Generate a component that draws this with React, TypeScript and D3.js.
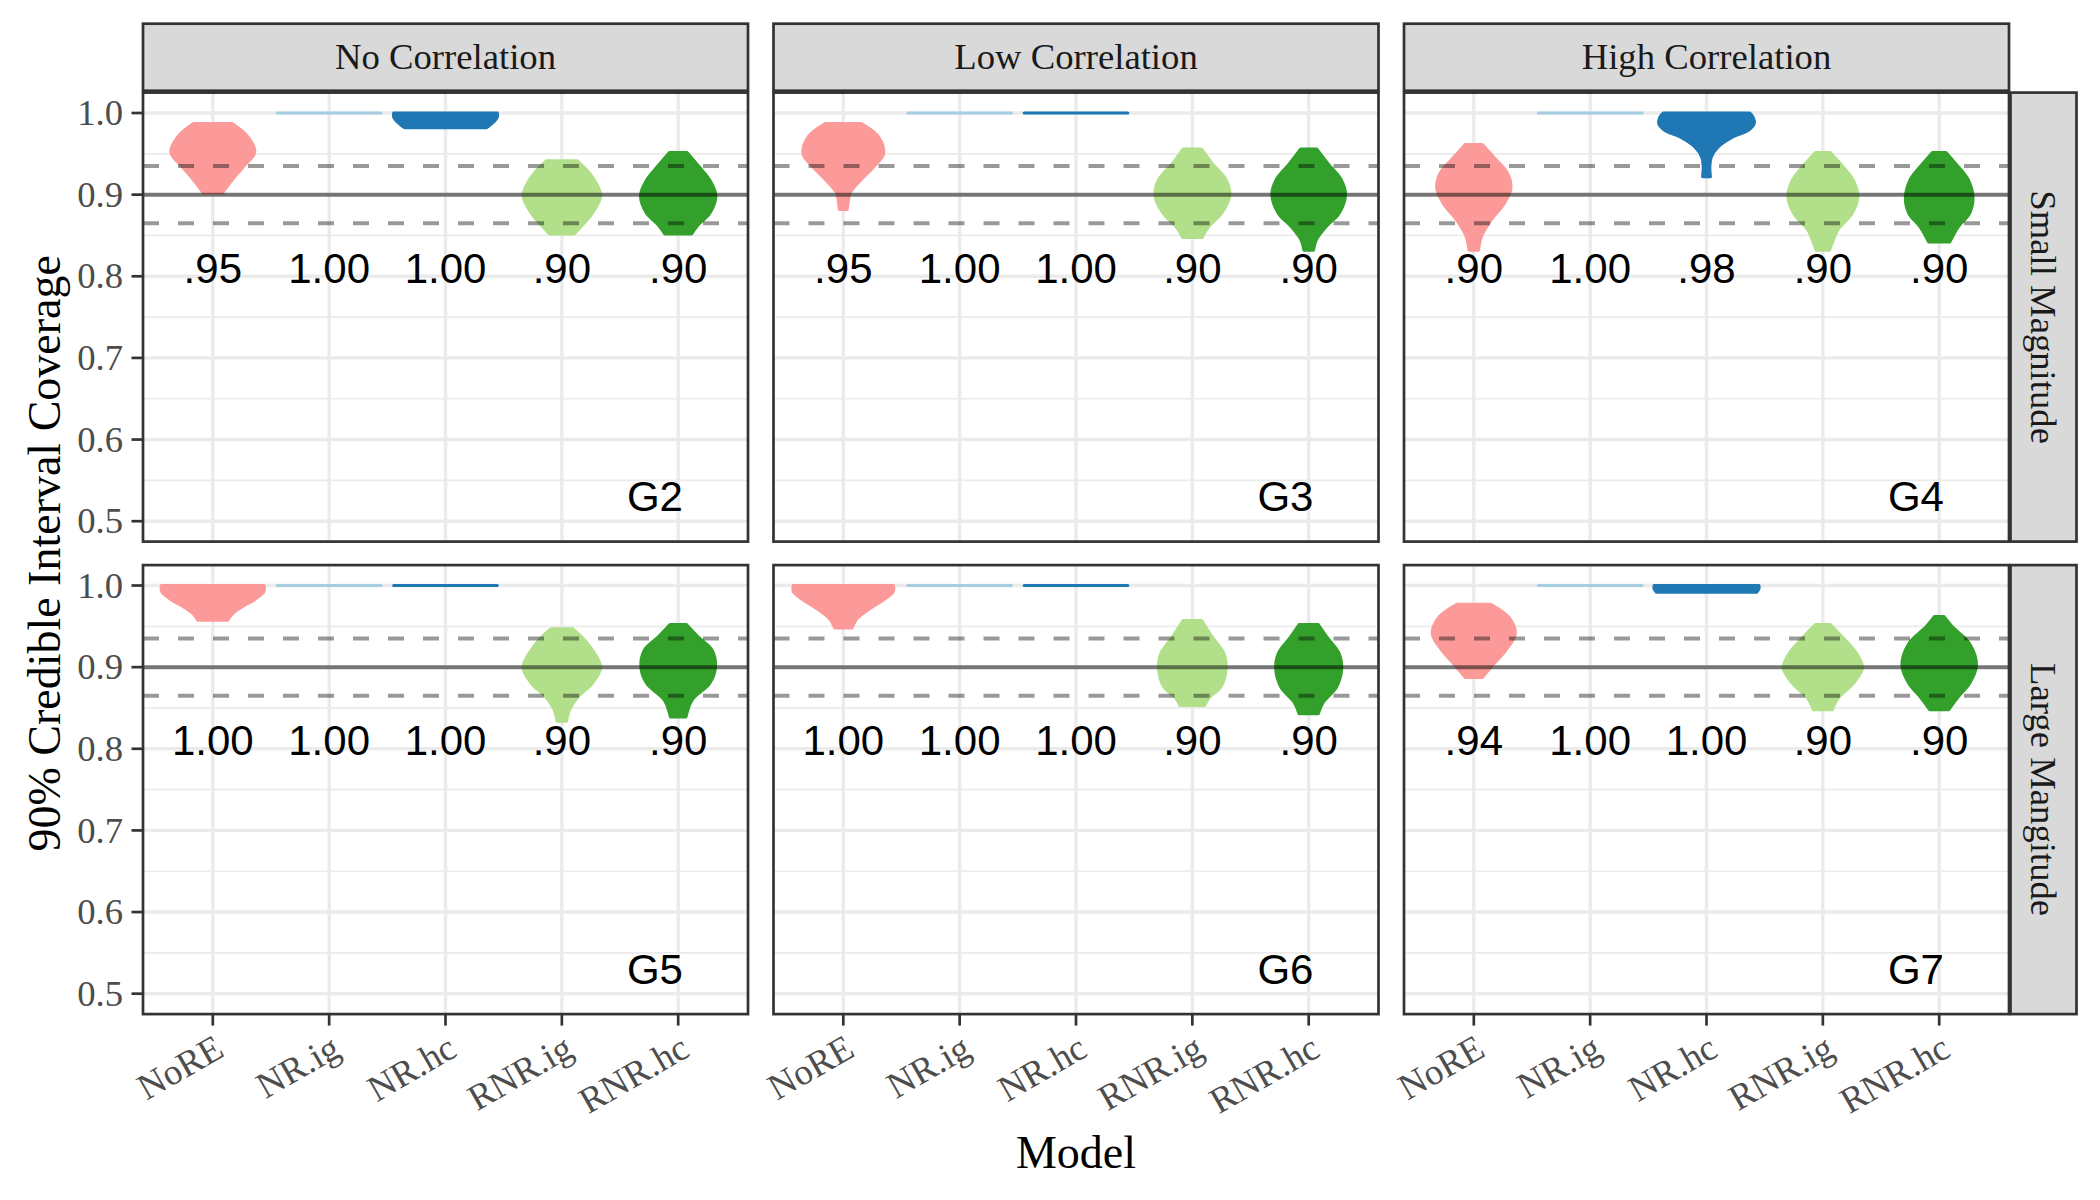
import React, { useEffect } from "react";
import * as d3 from "d3";

// categories
const models = ["NoRE", "NR.ig", "NR.hc", "RNR.ig", "RNR.hc"];
const modelColors = ["#FB9A99", "#A6CEE3", "#1F78B4", "#B2DF8A", "#33A02C"];
const correlations = ["No Correlation", "Low Correlation", "High Correlation"];
const magnitudes = ["Small Magnitude", "Large Mangitude"];
const groupNames = ["G2", "G3", "G4", "G5", "G6", "G7"];

// mean coverage printed under each violin (per group, per model)
const meanCoverage = [
  [0.95, 1.0, 1.0, 0.9, 0.9],
  [0.95, 1.0, 1.0, 0.9, 0.9],
  [0.9, 1.0, 0.98, 0.9, 0.9],
  [1.0, 1.0, 1.0, 0.9, 0.9],
  [1.0, 1.0, 1.0, 0.9, 0.9],
  [0.94, 1.0, 1.0, 0.9, 0.9],
];

// violin profiles: [coverage, half width in category units]
const flat: [number, number][] = [[1.0, 0.445], [1.0, 0.445]];

const violinsG2: [number, number][][] = [
  [[0.902, 0.08], [0.918, 0.165], [0.934, 0.26], [0.952, 0.36], [0.971, 0.3], [0.987, 0.165]],
  flat,
  [[0.982, 0.35], [0.985, 0.38], [0.99, 0.42], [0.995, 0.445], [1.0, 0.445]],
  [[0.852, 0.105], [0.861, 0.165], [0.877, 0.26], [0.899, 0.333], [0.922, 0.26], [0.9415, 0.13]],
  [[0.852, 0.115], [0.863, 0.17], [0.877, 0.27], [0.899, 0.323], [0.918, 0.27], [0.934, 0.18], [0.9516, 0.075]],
];
const violinsG3: [number, number][][] = [
  [[0.882, 0.033], [0.889, 0.04], [0.902, 0.057], [0.918, 0.15], [0.934, 0.26], [0.95, 0.346], [0.971, 0.3], [0.987, 0.155]],
  flat,
  flat,
  [[0.8476, 0.082], [0.861, 0.14], [0.877, 0.25], [0.899, 0.32], [0.918, 0.29], [0.938, 0.17], [0.9557, 0.08]],
  [[0.832, 0.04], [0.845, 0.066], [0.861, 0.15], [0.877, 0.26], [0.9, 0.316], [0.918, 0.28], [0.938, 0.165], [0.9557, 0.07]],
];
const violinsG4: [number, number][][] = [
  [[0.832, 0.04], [0.849, 0.066], [0.869, 0.148], [0.889, 0.26], [0.9077, 0.318], [0.926, 0.29], [0.946, 0.17], [0.9614, 0.073]],
  flat,
  [[0.922, 0.033], [0.934, 0.028], [0.946, 0.04], [0.9585, 0.1], [0.971, 0.23], [0.979, 0.36], [0.987, 0.41], [0.995, 0.4], [1.0, 0.37]],
  [[0.832, 0.057], [0.841, 0.08], [0.857, 0.13], [0.877, 0.25], [0.8976, 0.3], [0.918, 0.26], [0.938, 0.15], [0.9516, 0.063]],
  [[0.842, 0.09], [0.861, 0.165], [0.877, 0.26], [0.8955, 0.29], [0.918, 0.25], [0.938, 0.14], [0.9516, 0.058]],
];
const violinsG5: [number, number][][] = [
  [[0.9577, 0.13], [0.965, 0.165], [0.973, 0.24], [0.983, 0.36], [0.993, 0.44], [1.0, 0.44]],
  flat,
  flat,
  [[0.834, 0.04], [0.848, 0.066], [0.864, 0.14], [0.88, 0.26], [0.9, 0.333], [0.929, 0.22], [0.947, 0.092]],
  [[0.839, 0.066], [0.86, 0.12], [0.88, 0.27], [0.9, 0.32], [0.921, 0.29], [0.937, 0.17], [0.952, 0.07]],
];
const violinsG6: [number, number][][] = [
  [[0.948, 0.073], [0.959, 0.115], [0.971, 0.22], [0.983, 0.35], [0.993, 0.43], [1.0, 0.43]],
  flat,
  flat,
  [[0.853, 0.105], [0.862, 0.14], [0.876, 0.245], [0.898, 0.29], [0.917, 0.27], [0.937, 0.17], [0.957, 0.08]],
  [[0.843, 0.082], [0.856, 0.12], [0.876, 0.24], [0.898, 0.283], [0.917, 0.26], [0.937, 0.155], [0.952, 0.082]],
];
const violinsG7: [number, number][][] = [
  [[0.8875, 0.073], [0.904, 0.17], [0.92, 0.27], [0.9407, 0.356], [0.961, 0.3], [0.977, 0.145]],
  flat,
  [[0.992, 0.43], [0.996, 0.45], [1.0, 0.45]],
  [[0.848, 0.082], [0.862, 0.13], [0.88, 0.26], [0.899, 0.34], [0.9165, 0.29], [0.937, 0.165], [0.952, 0.063]],
  [[0.848, 0.082], [0.864, 0.165], [0.88, 0.26], [0.902, 0.32], [0.929, 0.26], [0.949, 0.115], [0.962, 0.04]],
];
const violins = [violinsG2, violinsG3, violinsG4, violinsG5, violinsG6, violinsG7];

// axis ticks and reference lines
const yTicks = [0.5, 0.6, 0.7, 0.8, 0.9, 1.0];
const yMinorTicks = [0.55, 0.65, 0.75, 0.85, 0.95];
const nominal = 0.9;
const band = [0.865, 0.935];
const labelY = 0.81;
const groupLabelPos = { x: 4.8, y: 0.53 };

// layout
const W = 2100;
const H = 1200;
const left = 143;
const panelW = 605;
const gapX = 25.5;
const top = 92.6;
const panelH = 449;
const gapY = 23.5;
const stripTop = 23.7;
const stripH = 67;
const rightStripW = 66;

const serif = "'Liberation Serif', 'Times New Roman', serif";
const sans = "'Liberation Sans', Arial, sans-serif";
const fmt = (v: number) => d3.format(".2f")(v).replace(/^0/, "");

export default function App() {
  useEffect(() => {
    document.body.style.margin = "0";
  }, []);

  const rows = [0, 1];
  const cols = [0, 1, 2];
  const panelRight = left + 3 * panelW + 2 * gapX;
  const bottom = top + 2 * panelH + gapY;

  return (
    <svg width={W} height={H} style={{ display: "block", background: "#fff" }}>
      {rows.map((r) =>
        cols.map((c) => {
          const idx = r * 3 + c;
          const x0 = left + c * (panelW + gapX);
          const y0 = top + r * (panelH + gapY);
          const x = d3.scalePoint<string>().domain(models).range([x0, x0 + panelW]).padding(0.6);
          const step = x.step();
          const y = d3.scaleLinear().domain([0.475, 1.025]).range([y0 + panelH, y0]);
          return (
            <g key={idx}>
              <clipPath id={`clip${idx}`}>
                <rect x={x0} y={y0} width={panelW} height={panelH} />
              </clipPath>
              <rect x={x0} y={y0} width={panelW} height={panelH} fill="#fff" />
              <g clipPath={`url(#clip${idx})`}>
                {yMinorTicks.map((t) => (
                  <line key={`m${t}`} x1={x0} x2={x0 + panelW} y1={y(t)} y2={y(t)} stroke="#EBEBEB" strokeWidth={1.7} />
                ))}
                {yTicks.map((t) => (
                  <line key={`M${t}`} x1={x0} x2={x0 + panelW} y1={y(t)} y2={y(t)} stroke="#EBEBEB" strokeWidth={3.4} />
                ))}
                {models.map((m) => (
                  <line key={`v${m}`} x1={x(m)!} x2={x(m)!} y1={y0} y2={y0 + panelH} stroke="#EBEBEB" strokeWidth={3.4} />
                ))}
                {models.map((m, i) => {
                  const prof = violins[idx][i];
                  const cx = x(m)!;
                  const area = d3
                    .area<[number, number]>()
                    .y((d) => y(d[0]))
                    .x0((d) => cx - d[1] * step)
                    .x1((d) => cx + d[1] * step)
                    .curve(prof.length > 2 ? d3.curveCatmullRom.alpha(0.5) : d3.curveLinear);
                  return (
                    <path
                      key={`vi${m}`}
                      d={area(prof) || ""}
                      fill={modelColors[i]}
                      stroke={modelColors[i]}
                      strokeWidth={3.2}
                      strokeLinejoin="round"
                    />
                  );
                })}
                <line x1={x0} x2={x0 + panelW} y1={y(nominal)} y2={y(nominal)} stroke="#000" strokeOpacity={0.5} strokeWidth={4} />
                {band.map((b) => (
                  <line
                    key={`b${b}`}
                    x1={x0}
                    x2={x0 + panelW}
                    y1={y(b)}
                    y2={y(b)}
                    stroke="#000"
                    strokeOpacity={0.4}
                    strokeWidth={4}
                    strokeDasharray="16 19"
                  />
                ))}
                {models.map((m, i) => (
                  <text
                    key={`t${m}`}
                    x={x(m)!}
                    y={y(labelY)}
                    dy="0.35em"
                    textAnchor="middle"
                    fontFamily={sans}
                    fontSize={42}
                    fill="#000"
                  >
                    {fmt(meanCoverage[idx][i])}
                  </text>
                ))}
                <text
                  x={x0 + (groupLabelPos.x - 1 + 0.6) * step}
                  y={y(groupLabelPos.y)}
                  dy="0.35em"
                  textAnchor="middle"
                  fontFamily={sans}
                  fontSize={42}
                  fill="#000"
                >
                  {groupNames[idx]}
                </text>
              </g>
              <rect x={x0} y={y0} width={panelW} height={panelH} fill="none" stroke="#333333" strokeWidth={2.7} />

              {/* y axis on first column */}
              {c === 0 &&
                yTicks.map((t) => (
                  <g key={`yt${t}`}>
                    <line x1={x0 - 11.5} x2={x0} y1={y(t)} y2={y(t)} stroke="#333333" strokeWidth={2.7} />
                    <text
                      x={x0 - 20}
                      y={y(t)}
                      dy="0.33em"
                      textAnchor="end"
                      fontFamily={serif}
                      fontSize={36.7}
                      fill="#4D4D4D"
                    >
                      {d3.format(".1f")(t)}
                    </text>
                  </g>
                ))}

              {/* x axis on bottom row */}
              {r === 1 &&
                models.map((m) => (
                  <g key={`xt${m}`}>
                    <line x1={x(m)!} x2={x(m)!} y1={y0 + panelH} y2={y0 + panelH + 11.5} stroke="#333333" strokeWidth={2.7} />
                    <text
                      transform={`translate(${x(m)!},${y0 + panelH + 18}) rotate(-30)`}
                      dy="0.72em"
                      textAnchor="end"
                      fontFamily={serif}
                      fontSize={36.7}
                      fill="#4D4D4D"
                    >
                      {m}
                    </text>
                  </g>
                ))}

              {/* column strips */}
              {r === 0 && (
                <g>
                  <rect x={x0} y={stripTop} width={panelW} height={stripH} fill="#D9D9D9" stroke="#333333" strokeWidth={2.7} />
                  <text
                    x={x0 + panelW / 2}
                    y={stripTop + stripH / 2}
                    dy="0.33em"
                    textAnchor="middle"
                    fontFamily={serif}
                    fontSize={36.7}
                    fill="#1A1A1A"
                  >
                    {correlations[c]}
                  </text>
                </g>
              )}

              {/* row strips */}
              {c === 2 && (
                <g>
                  <rect x={x0 + panelW + 1.5} y={y0} width={rightStripW} height={panelH} fill="#D9D9D9" stroke="#333333" strokeWidth={2.7} />
                  <text
                    transform={`translate(${x0 + panelW + 1.5 + rightStripW / 2},${y0 + panelH / 2}) rotate(90)`}
                    dy="0.33em"
                    textAnchor="middle"
                    fontFamily={serif}
                    fontSize={36.7}
                    fill="#1A1A1A"
                  >
                    {magnitudes[r]}
                  </text>
                </g>
              )}
            </g>
          );
        })
      )}

      <text
        transform={`translate(45,${(top + bottom) / 2}) rotate(-90)`}
        dy="0.33em"
        textAnchor="middle"
        fontFamily={serif}
        fontSize={46}
        fill="#000"
      >
        90% Credible Interval Coverage
      </text>
      <text x={(left + panelRight) / 2} y={1168} textAnchor="middle" fontFamily={serif} fontSize={46} fill="#000">
        Model
      </text>
    </svg>
  );
}
